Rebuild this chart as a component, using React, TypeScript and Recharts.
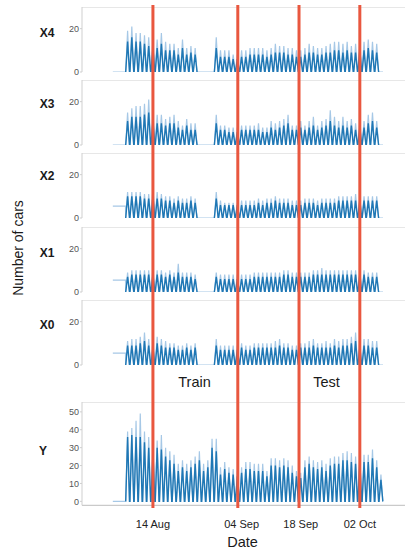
import React from 'react';
import { LineChart, Line, XAxis, YAxis, ReferenceLine } from 'recharts';

// day index: 0 = 1 Aug
const firstDay = 7;
const xDomain = [-3.8, 72.7];
const leadSpan = [3.5, 6.5];
const tailEnd = 67.5;

const dateTicks = [13, 34, 48, 62];
const dateLabels = ['14 Aug', '04 Sep', '18 Sep', '02 Oct'];
const splitDays = [13, 33.1, 47.6, 62];

const panelNames = ['X4', 'X3', 'X2', 'X1', 'X0', 'Y'];
const leadLevels = [0, 0, 5.5, 5.5, 5.5, 0];

// daily peaks (light tips) and dark body tops, days 7 Aug .. 6 Oct
const x4Hi = [19, 21, 18, 18, 17, 16, 15, 15, 18, 14, 13, 13, 11, 15, 11, 12, 11, 0, 0, 0, 0,
  16, 10, 10, 10, 8, 8, 10, 10, 11, 11, 11, 11, 10, 11, 13, 12, 12, 11, 11, 10,
  10, 11, 13, 12, 11, 11, 12, 13, 14, 14, 13, 14, 12, 13, 14, 14, 15, 14, 13, 0];
const x4Lo = [14, 16, 14, 14, 13, 12, 11, 11, 13, 10, 10, 10, 8, 11, 8, 9, 8, 0, 0, 0, 0,
  11, 7, 7, 7, 6, 6, 7, 7, 8, 8, 8, 8, 7, 8, 9, 9, 9, 8, 8, 7,
  7, 8, 9, 9, 8, 8, 9, 9, 10, 10, 9, 10, 9, 9, 10, 10, 11, 10, 9, 0];

const x3Hi = [15, 17, 18, 18, 19, 21, 15, 14, 14, 12, 13, 14, 11, 9, 12, 10, 10, 0, 0, 0, 0,
  14, 9, 9, 8, 8, 8, 9, 9, 9, 9, 10, 8, 8, 11, 10, 11, 12, 14, 9, 9,
  11, 9, 11, 13, 9, 11, 12, 16, 13, 11, 13, 11, 12, 10, 11, 11, 14, 15, 11, 0];
const x3Lo = [11, 13, 13, 13, 14, 15, 11, 10, 10, 9, 10, 10, 8, 7, 9, 7, 7, 0, 0, 0, 0,
  10, 7, 7, 6, 6, 6, 7, 7, 7, 7, 7, 6, 6, 8, 7, 8, 9, 10, 7, 7,
  8, 7, 8, 9, 7, 8, 9, 11, 9, 8, 9, 8, 9, 7, 8, 8, 10, 11, 8, 0];

const x2Hi = [12, 12, 12, 12, 11, 11, 14, 12, 11, 10, 10, 9, 10, 9, 9, 10, 9, 0, 0, 0, 0,
  12, 8, 7, 7, 7, 7, 8, 8, 8, 8, 9, 8, 9, 9, 10, 9, 9, 9, 8, 8,
  8, 9, 9, 9, 8, 9, 9, 9, 9, 10, 10, 10, 10, 11, 10, 10, 10, 10, 10, 0];
const x2Lo = [10, 10, 10, 10, 9, 9, 10, 9, 9, 8, 8, 7, 8, 7, 7, 8, 7, 0, 0, 0, 0,
  9, 6, 6, 6, 6, 6, 6, 6, 6, 6, 7, 6, 7, 7, 8, 7, 7, 7, 6, 6,
  6, 7, 7, 7, 6, 7, 7, 7, 7, 8, 8, 8, 8, 8, 8, 8, 8, 8, 8, 0];

const x1Hi = [9, 10, 10, 10, 10, 10, 11, 10, 10, 9, 10, 9, 13, 9, 9, 9, 8, 0, 0, 0, 0,
  9, 8, 8, 8, 8, 8, 8, 8, 8, 9, 9, 9, 9, 9, 9, 9, 10, 10, 9, 9,
  9, 9, 9, 10, 10, 11, 10, 10, 10, 10, 10, 10, 10, 10, 10, 10, 9, 9, 9, 0];
const x1Lo = [7, 8, 8, 8, 8, 8, 8, 8, 8, 7, 8, 7, 9, 7, 7, 7, 6, 0, 0, 0, 0,
  7, 6, 6, 6, 6, 6, 6, 6, 6, 7, 7, 7, 7, 7, 7, 7, 8, 8, 7, 7,
  7, 7, 7, 8, 8, 8, 8, 8, 8, 8, 8, 8, 8, 8, 8, 8, 7, 7, 7, 0];

const x0Hi = [11, 12, 12, 13, 15, 12, 11, 13, 12, 11, 10, 10, 9, 9, 10, 9, 10, 0, 0, 0, 0,
  12, 9, 9, 9, 9, 9, 10, 9, 9, 10, 10, 10, 10, 10, 11, 12, 10, 10, 9, 9,
  10, 10, 11, 12, 10, 10, 11, 10, 12, 11, 12, 12, 13, 15, 11, 12, 12, 11, 11, 0];
const x0Lo = [9, 9, 9, 10, 11, 9, 8, 10, 9, 8, 8, 8, 7, 7, 8, 7, 8, 0, 0, 0, 0,
  9, 7, 7, 7, 7, 7, 8, 7, 7, 8, 8, 8, 8, 8, 8, 9, 8, 8, 7, 7,
  8, 8, 8, 9, 8, 8, 8, 8, 9, 8, 9, 9, 10, 11, 8, 9, 9, 8, 8, 0];

const yHi = [39, 41, 45, 49, 39, 36, 33, 34, 37, 30, 28, 26, 21, 23, 21, 23, 25, 28, 21, 23, 35,
  35, 19, 22, 19, 18, 17, 19, 22, 22, 21, 21, 21, 17, 24, 24, 23, 24, 23, 20, 17,
  16, 23, 25, 23, 22, 23, 21, 24, 25, 25, 27, 28, 27, 25, 26, 26, 26, 29, 23, 15];
const yLo = [36, 37, 36, 36, 33, 30, 27, 30, 29, 25, 23, 21, 17, 19, 17, 19, 21, 23, 17, 19, 30,
  28, 15, 18, 16, 15, 14, 16, 18, 18, 17, 17, 17, 14, 20, 20, 19, 20, 19, 16, 14,
  13, 19, 21, 19, 18, 19, 17, 20, 21, 21, 23, 23, 22, 21, 22, 22, 22, 24, 19, 12];

const hiSeries = [x4Hi, x3Hi, x2Hi, x1Hi, x0Hi, yHi];
const loSeries = [x4Lo, x3Lo, x2Lo, x1Lo, x0Lo, yLo];

const xTicks = [0, 20];
const yTicks = [0, 10, 20, 30, 40, 50];

const light = '#a6c8e6';
const dark = '#1f77b4';
const frame = '#cfcfcf';
const splitColor = '#e9573f';

function buildRows(hi: number[], lo: number[], lead: number) {
  const rows: any[] = [
    { t: leadSpan[0], hi: lead, lo: null },
    { t: leadSpan[1], hi: lead, lo: null },
  ];
  hi.forEach((v, i) => {
    const d = firstDay + i;
    const on = v > 0;
    rows.push({ t: d - 0.45, hi: 0, lo: on ? 0 : null });
    rows.push({ t: d, hi: v, lo: on ? lo[i] : null });
    rows.push({ t: d + 0.45, hi: 0, lo: on ? 0 : null });
  });
  rows.push({ t: tailEnd, hi: 0, lo: null });
  return rows;
}

// plot top / height in px for each panel
const panelTops = [6.6, 80, 153.3, 226.6, 300.3, 401.7];
const panelHeights = [65, 65, 65, 65, 65, 103.3];
const labelTops = [33, 104, 176, 253, 325, 451];

const Panel: React.FC<{ i: number }> = ({ i }) => {
  const isY = i === 5;
  const domain = isY ? [-2.2, 55.5] : [0, 30];
  const axisH = isY ? 40 : 0;
  const pad = isY ? 0 : 7;
  const h = panelHeights[i] + axisH + pad;
  const rows = buildRows(hiSeries[i], loSeries[i], leadLevels[i]);
  return (
    <div style={{ position: 'absolute', left: 0, top: panelTops[i], width: 405, height: h }}>
      <LineChart width={405} height={h} data={rows} margin={{ top: 0, right: 0, bottom: pad, left: 0 }}>
        <XAxis
          dataKey="t"
          type="number"
          domain={xDomain}
          allowDataOverflow
          height={axisH}
          ticks={isY ? dateTicks : []}
          tick={isY ? { fontSize: 11, fill: '#222' } : false}
          tickFormatter={(v) => dateLabels[dateTicks.indexOf(v)] ?? ''}
          tickLine={false}
          tickMargin={9}
          axisLine={{ stroke: '#bdbdbd' }}
          interval={0}
        />
        <YAxis
          width={82}
          type="number"
          domain={domain}
          allowDataOverflow
          ticks={isY ? yTicks : xTicks}
          interval={0}
          tick={{ fontSize: 9, fill: '#555' }}
          tickSize={2}
          tickMargin={1}
          stroke={frame}
        />
        <ReferenceLine y={domain[1]} stroke={frame} />
        <Line type="linear" dataKey="hi" stroke={light} strokeWidth={1.2} dot={false} isAnimationActive={false} />
        <Line type="linear" dataKey="lo" stroke={dark} strokeWidth={1.4} dot={false} isAnimationActive={false} />
      </LineChart>
    </div>
  );
};

const text = (s: string, x: number, y: number, size: number, bold = false) => (
  <div
    key={s}
    style={{
      position: 'absolute',
      left: x,
      top: y,
      transform: 'translate(-50%, -50%)',
      fontSize: size,
      fontWeight: bold ? 'bold' : 'normal',
      color: '#1a1a1a',
      whiteSpace: 'nowrap',
      lineHeight: 1,
    }}
  >
    {s}
  </div>
);

// overlay rows: one per split, only to give the x axis something to scale
const splitRows = splitDays.map((t) => ({ t, v: 0.5 }));

export default function App() {
  return (
    <div
      style={{
        position: 'absolute',
        left: 0,
        top: 0,
        width: 405,
        height: 551,
        background: '#fff',
        fontFamily: '"Liberation Sans", Arial, sans-serif',
        overflow: 'hidden',
      }}
    >
      {panelNames.map((_, i) => (
        <Panel key={i} i={i} />
      ))}

      <div style={{ position: 'absolute', left: 0, top: 5, width: 405, height: 503, pointerEvents: 'none' }}>
        <LineChart width={405} height={503} data={splitRows} margin={{ top: 0, right: 0, bottom: 0, left: 82 }}>
          <XAxis dataKey="t" type="number" domain={xDomain} allowDataOverflow hide />
          <YAxis hide type="number" domain={[0, 1]} />
          <Line dataKey="v" stroke="none" dot={false} activeDot={false} isAnimationActive={false} />
          {splitDays.map((x) => (
            <ReferenceLine key={x} x={x} stroke={splitColor} strokeWidth={3} ifOverflow="visible" />
          ))}
        </LineChart>
      </div>

      {panelNames.map((n, i) => text(n, n === 'Y' ? 43 : 47, labelTops[i], 12, true))}
      {text('Train', 194.5, 382, 14.5)}
      {text('Test', 326.5, 382, 14.5)}
      {text('Date', 242.5, 542, 14.5)}
      <div
        style={{
          position: 'absolute',
          left: 18,
          top: 248,
          transform: 'translate(-50%, -50%) rotate(-90deg)',
          fontSize: 14,
          color: '#1a1a1a',
          whiteSpace: 'nowrap',
          lineHeight: 1,
        }}
      >
        Number of cars
      </div>
    </div>
  );
}
